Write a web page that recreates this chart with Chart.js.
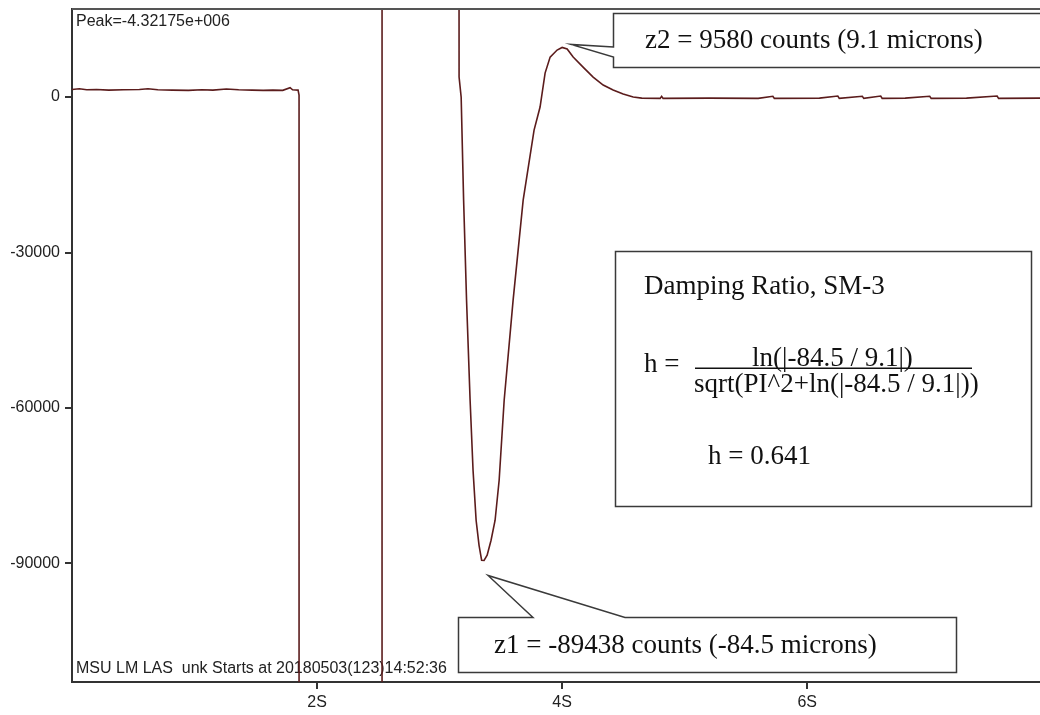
<!DOCTYPE html>
<html>
<head>
<meta charset="utf-8">
<script src="https://cdn.jsdelivr.net/npm/chart.js@4.4.1/dist/chart.umd.min.js"></script>
<style>
  html, body { margin: 0; padding: 0; background: #fff; }
  canvas { display: block; }
</style>
</head>
<body>
<canvas id="chart" width="1040" height="715"></canvas>
<script>
// trace (seconds / counts)
const timeSec = [
  0.00, 0.06, 0.12, 0.20, 0.30, 0.42, 0.55, 0.62, 0.70, 0.82,
  0.95, 1.06, 1.15, 1.26, 1.36, 1.47, 1.56, 1.64, 1.72, 1.78,
  1.80, 1.845, 1.853, 1.861, 2.200, 2.528, 2.533, 2.900, 3.150, 3.159,
  3.176, 3.196, 3.220, 3.249, 3.273, 3.298, 3.322, 3.343, 3.363, 3.388,
  3.420, 3.453, 3.486, 3.527, 3.600, 3.682, 3.771, 3.820, 3.861, 3.902,
  3.959, 4.000, 4.041, 4.090, 4.171, 4.253, 4.335, 4.416, 4.498, 4.580,
  4.650, 4.800, 4.812, 4.824, 5.200, 5.600, 5.720, 5.732, 6.100, 6.250,
  6.262, 6.450, 6.462, 6.600, 6.612, 6.800, 7.000, 7.012, 7.300, 7.550,
  7.562, 7.900
];
const counts = [
  1450, 1600, 1400, 1450, 1350, 1400, 1450, 1600, 1400, 1350,
  1300, 1400, 1350, 1550, 1400, 1350, 1300, 1350, 1300, 1800,
  1400, 1350, 400, -4321750, -3900000, -3300000, 3700000, 1200000, 420000, 3860,
  0, -19890, -39200, -58510, -72030, -81680, -86510, -89400, -89438, -88440,
  -85540, -81680, -73960, -58510, -39200, -19890, -6370, -1930, 4630, 7720,
  9080, 9580, 9270, 7720, 5790, 3860, 2320, 1350, 580, 0,
  -200, -250, 150, -250, -200, -250, 150, -250, -200, 200,
  -250, 150, -250, 200, -250, -200, 150, -250, -200, 200,
  -250, -200
];

const xTickValues = [2, 4, 6];
const xTickLabels = ["2S", "4S", "6S"];
const yTickValues = [-90000, -60000, -30000, 0];

const peakText = "Peak=-4.32175e+006";
const startText = "MSU LM LAS  unk Starts at 20180503(123)14:52:36";
const z1Text = "z1 = -89438 counts (-84.5 microns)";
const z2Text = "z2 = 9580 counts (9.1 microns)";
const z1Point = { t: 3.363, v: -89438 };
const z2Point = { t: 4.000, v: 9580 };

const SANS = "'Liberation Sans', Arial, sans-serif";
const SERIF = "'Liberation Serif', 'Times New Roman', serif";

function callout(ctx, pts) {
  ctx.beginPath();
  ctx.moveTo(pts[0][0], pts[0][1]);
  for (let i = 1; i < pts.length; i++) ctx.lineTo(pts[i][0], pts[i][1]);
  ctx.closePath();
  ctx.fillStyle = "#fff";
  ctx.fill();
  ctx.strokeStyle = "#3a3a3a";
  ctx.lineWidth = 1.5;
  ctx.stroke();
}

const overlay = {
  id: "overlay",
  beforeDatasetsDraw(chart) {
    const { ctx, chartArea: a } = chart;
    ctx.save();
    ctx.font = "16px " + SANS;
    ctx.fillStyle = "#222";
    ctx.fillText(peakText, a.left + 4, a.top + 17);
    ctx.fillText(startText, a.left + 4, a.bottom - 9);
    ctx.restore();
  },
  afterDraw(chart) {
    const { ctx, chartArea: a, scales } = chart;
    const x = scales.x, y = scales.y;
    ctx.save();

    // top frame line
    ctx.strokeStyle = "#555";
    ctx.lineWidth = 2;
    ctx.beginPath();
    ctx.moveTo(a.left, a.top);
    ctx.lineTo(a.right, a.top);
    ctx.stroke();

    // z2 callout, pointing at the overshoot peak
    const t2 = [x.getPixelForValue(z2Point.t) + 9, y.getPixelForValue(z2Point.v) - 3];
    callout(ctx, [[613.5, 47], t2, [613.5, 57], [613.5, 67.5], [1050, 67.5], [1050, 13.5], [613.5, 13.5]]);

    // z1 callout, pointing at the first minimum
    const t1 = [x.getPixelForValue(z1Point.t) + 4, y.getPixelForValue(z1Point.v) + 15];
    callout(ctx, [[533, 617.5], t1, [625, 617.5], [956.5, 617.5], [956.5, 672.5], [458.5, 672.5], [458.5, 617.5]]);

    // damping ratio box
    ctx.fillStyle = "#fff";
    ctx.fillRect(615.5, 251.5, 416, 255);
    ctx.strokeStyle = "#3a3a3a";
    ctx.lineWidth = 1.5;
    ctx.strokeRect(615.5, 251.5, 416, 255);

    ctx.fillStyle = "#111";
    ctx.font = "27px " + SERIF;
    ctx.fillText(z2Text, 645, 48);
    ctx.fillText(z1Text, 494, 653);
    ctx.fillText("Damping Ratio, SM-3", 644, 294);
    ctx.fillText("h =", 644, 372);
    ctx.fillText("ln(|-84.5 / 9.1|)", 752, 366);
    ctx.fillText("sqrt(PI^2+ln(|-84.5 / 9.1|))", 694, 392);
    ctx.fillText("h = 0.641", 708, 464);
    ctx.fillRect(695, 367.5, 277, 1.5);

    ctx.restore();
  }
};

const points = timeSec.map((t, i) => ({ x: t, y: counts[i] }));

new Chart(document.getElementById("chart"), {
  type: "line",
  data: {
    datasets: [{
      data: points,
      borderColor: "#5b1c1c",
      borderWidth: 1.6,
      pointRadius: 0,
      tension: 0,
      fill: false
    }]
  },
  options: {
    responsive: false,
    animation: false,
    devicePixelRatio: 1,
    layout: { padding: { top: 9, right: 0, left: 0, bottom: 0 } },
    plugins: { legend: { display: false }, tooltip: { enabled: false } },
    scales: {
      x: {
        type: "linear",
        min: 0,
        max: 7.9,
        afterBuildTicks: (s) => { s.ticks = xTickValues.map(v => ({ value: v })); },
        afterFit: (s) => { s.height = 33; s.paddingLeft = 0; s.paddingRight = 0; },
        ticks: {
          autoSkip: false,
          maxRotation: 0,
          padding: 4,
          color: "#222",
          font: { family: SANS, size: 16 },
          callback: (v) => xTickLabels[xTickValues.indexOf(v)]
        },
        grid: { drawOnChartArea: false, drawTicks: true, tickLength: 7, color: "#333", lineWidth: 2 },
        border: { display: true, color: "#333", width: 2 }
      },
      y: {
        min: -112900,
        max: 17000,
        afterBuildTicks: (s) => { s.ticks = yTickValues.map(v => ({ value: v })); },
        afterFit: (s) => { s.width = 72; s.paddingTop = 0; s.paddingBottom = 0; },
        ticks: {
          padding: 5,
          color: "#222",
          font: { family: SANS, size: 16 },
          callback: (v) => String(v)
        },
        grid: { drawOnChartArea: false, drawTicks: true, tickLength: 7, color: "#333", lineWidth: 2 },
        border: { display: true, color: "#333", width: 2 }
      }
    }
  },
  plugins: [overlay]
});
</script>
</body>
</html>
